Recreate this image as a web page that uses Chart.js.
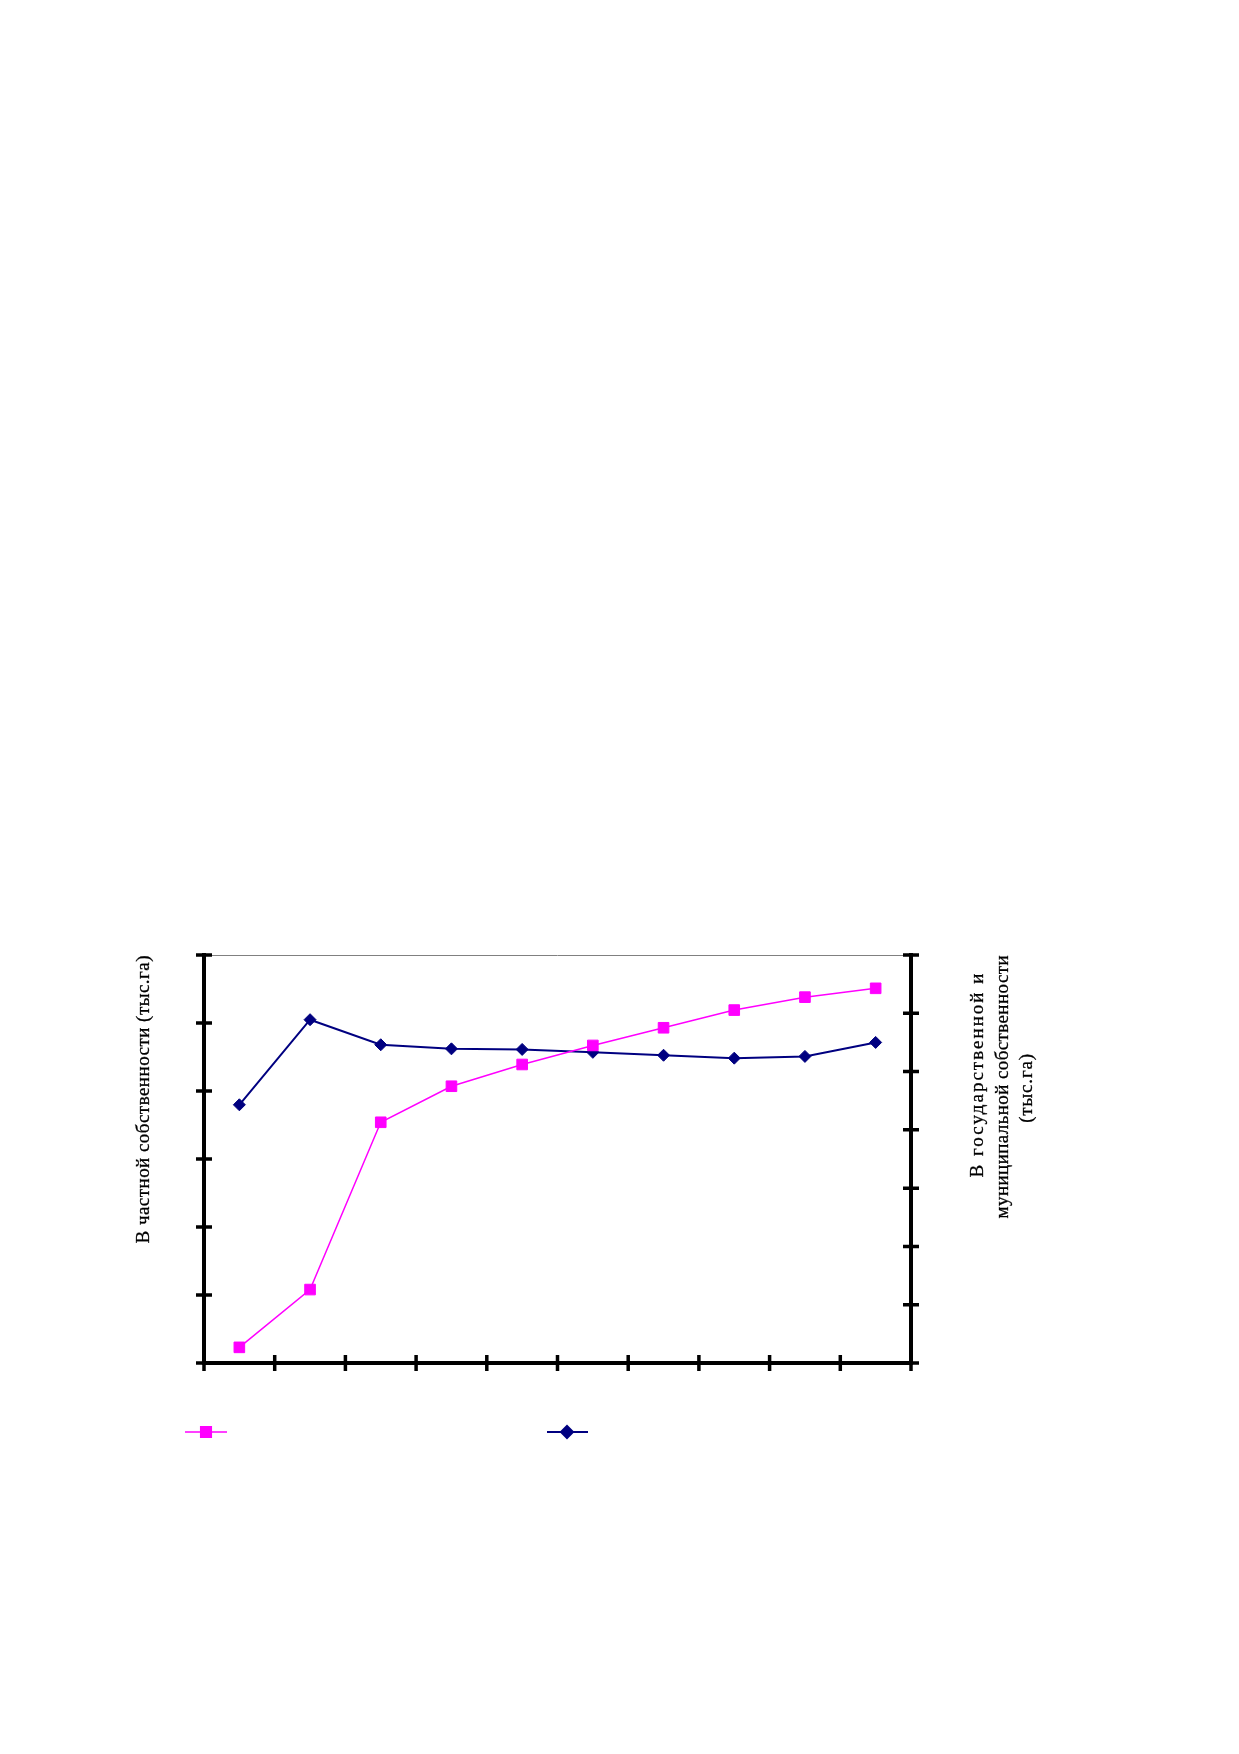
<!DOCTYPE html>
<html>
<head>
<meta charset="utf-8">
<script src="https://cdn.jsdelivr.net/npm/chart.js@4/dist/chart.umd.min.js"></script>
<style>
html,body{margin:0;padding:0;background:#fff;}
canvas{display:block;}
</style>
</head>
<body>
<canvas id="c" width="1239" height="1754"></canvas>
<script>
// ---- data ----
const categories = ['1', '2', '3', '4', '5', '6', '7', '8', '9', '10'];
const privateValues = [0.23, 1.08, 3.54, 4.07, 4.39, 4.67, 4.93, 5.19, 5.38, 5.51];
const stateValues = [4.43, 5.89, 5.46, 5.39, 5.38, 5.33, 5.28, 5.23, 5.26, 5.50];
const leftTicks = [0, 1, 2, 3, 4, 5, 6];
const rightTicks = [0, 1, 2, 3, 4, 5, 6, 7];
const leftTitle = 'В частной собственности (тыс.га)';
const rightTitle = ['В государственной и', 'муниципальной собственности', '(тыс.га)'];

const PINK = '#FF00FF';
const NAVY = '#000080';
const FONT = '19px "Liberation Serif", "DejaVu Serif", serif';

function drawVText(ctx, text, baseX, centerY, len) {
  ctx.save();
  ctx.font = FONT;
  ctx.letterSpacing = '0px';
  const w = ctx.measureText(text).width;
  const ls = text.length > 1 ? (len - w) / (text.length - 1) : 0;
  ctx.letterSpacing = ls + 'px';
  ctx.translate(baseX, centerY + ls / 2);
  ctx.rotate(-Math.PI / 2);
  ctx.textAlign = 'center';
  ctx.textBaseline = 'alphabetic';
  ctx.fillStyle = '#000';
  ctx.strokeStyle = '#000';
  ctx.lineWidth = 0.3;
  ctx.fillText(text, 0, 0);
  ctx.strokeText(text, 0, 0);
  ctx.restore();
}

const framePlugin = {
  id: 'frame',
  beforeDatasetsDraw(chart) {
    const { ctx, chartArea: a, scales } = chart;
    ctx.save();
    ctx.strokeStyle = '#808080';
    ctx.lineWidth = 1;
    ctx.beginPath();
    ctx.moveTo(a.left, a.top + 0.5);
    ctx.lineTo(a.right, a.top + 0.5);
    ctx.stroke();

    ctx.strokeStyle = '#000';
    ctx.lineWidth = 4;
    ctx.lineCap = 'butt';
    ctx.beginPath();
    ctx.moveTo(a.left, a.top - 2); ctx.lineTo(a.left, a.bottom + 2);
    ctx.moveTo(a.right, a.top - 2); ctx.lineTo(a.right, a.bottom + 2);
    ctx.moveTo(a.left - 2, a.bottom); ctx.lineTo(a.right + 2, a.bottom);
    ctx.stroke();

    ctx.lineWidth = 3.5;
    ctx.beginPath();
    leftTicks.forEach(v => {
      const y = scales.y.getPixelForValue(v);
      ctx.moveTo(a.left - 8, y); ctx.lineTo(a.left + 8, y);
    });
    rightTicks.forEach(v => {
      const y = scales.y1.getPixelForValue(v);
      ctx.moveTo(a.right - 8, y); ctx.lineTo(a.right + 8, y);
    });
    for (let i = 0; i <= categories.length; i++) {
      const x = scales.x.getPixelForValue(i - 0.5);
      ctx.moveTo(x, a.bottom - 8); ctx.lineTo(x, a.bottom + 8);
    }
    ctx.stroke();
    ctx.restore();
  },
  afterDraw(chart) {
    const { ctx } = chart;
    // axis titles
    drawVText(ctx, leftTitle, 149, 1099, 288);
    drawVText(ctx, rightTitle[0], 983, 1073.5, 204);
    drawVText(ctx, rightTitle[1], 1007.5, 1086.5, 263);
    drawVText(ctx, rightTitle[2], 1032, 1087.5, 69);

    // legend (symbols only, as in reference)
    const ds = chart.data.datasets;
    const items = [
      { d: ds[0], x0: 185, x1: 227, cx: 206 },
      { d: ds[1], x0: 547, x1: 588, cx: 567 }
    ];
    const ly = 1432;
    items.forEach(it => {
      ctx.save();
      ctx.strokeStyle = it.d.borderColor;
      ctx.lineWidth = it.d.borderWidth;
      ctx.beginPath();
      ctx.moveTo(it.x0, ly); ctx.lineTo(it.x1, ly);
      ctx.stroke();
      ctx.fillStyle = it.d.pointBackgroundColor;
      ctx.strokeStyle = it.d.pointBorderColor;
      Chart.helpers.drawPoint(ctx, {
        pointStyle: it.d.pointStyle,
        radius: it.d.pointRadius,
        borderWidth: it.d.pointBorderWidth,
        rotation: 0
      }, it.cx, ly);
      ctx.restore();
    });
  }
};

new Chart(document.getElementById('c'), {
  type: 'line',
  data: {
    labels: categories,
    datasets: [
      {
        label: '',
        data: privateValues,
        yAxisID: 'y',
        borderColor: PINK,
        backgroundColor: PINK,
        pointBackgroundColor: PINK,
        pointBorderColor: PINK,
        borderWidth: 1.5,
        pointStyle: 'rect',
        pointRadius: 7.5,
        pointBorderWidth: 1,
        tension: 0,
        fill: false
      },
      {
        label: '',
        data: stateValues,
        yAxisID: 'y1',
        borderColor: NAVY,
        backgroundColor: NAVY,
        pointBackgroundColor: NAVY,
        pointBorderColor: NAVY,
        borderWidth: 2,
        pointStyle: 'rectRot',
        pointRadius: 6,
        pointBorderWidth: 1,
        tension: 0,
        fill: false
      }
    ]
  },
  options: {
    responsive: false,
    animation: false,
    layout: { padding: { left: 204, right: 1239 - 911, top: 955, bottom: 1754 - 1363 } },
    plugins: { legend: { display: false }, tooltip: { enabled: false } },
    scales: {
      x: { display: false, offset: true },
      y: { display: false, min: 0, max: 6, ticks: { stepSize: 1 } },
      y1: { display: false, position: 'right', min: 0, max: 7, ticks: { stepSize: 1 } }
    }
  },
  plugins: [framePlugin]
});
</script>
</body>
</html>
